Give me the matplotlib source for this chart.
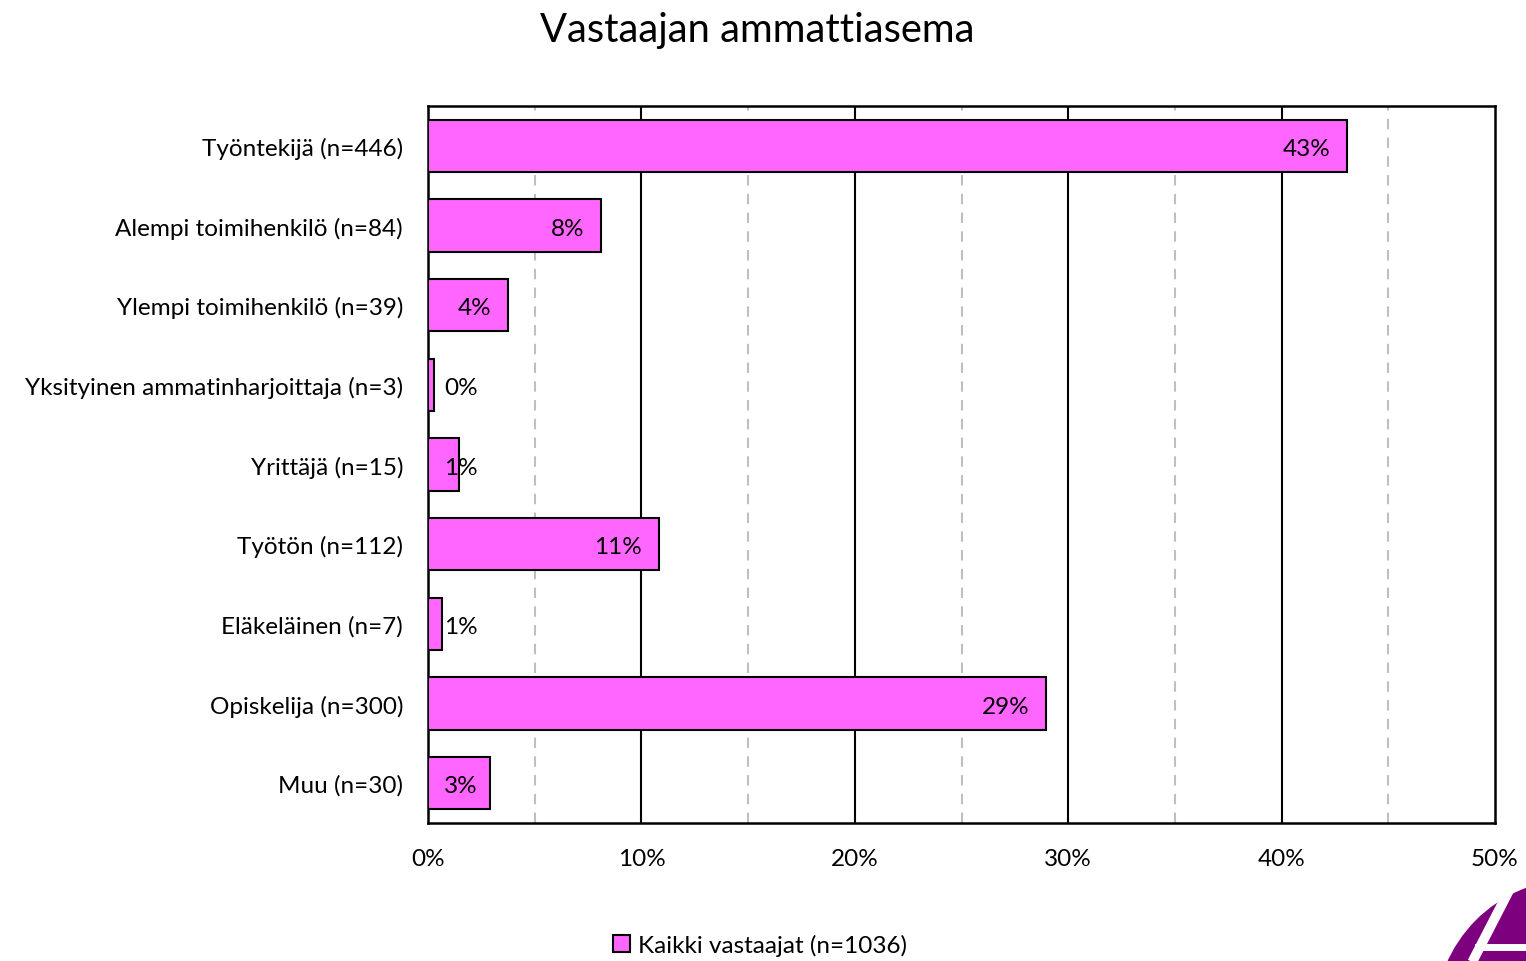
import matplotlib.pyplot as plt
from matplotlib.patches import Wedge, Patch
import numpy as np

plt.rcParams['font.family'] = ['Lato', 'DejaVu Sans']

categories = ['Työntekijä (n=446)', 'Alempi toimihenkilö (n=84)',
              'Ylempi toimihenkilö (n=39)', 'Yksityinen ammatinharjoittaja (n=3)',
              'Yrittäjä (n=15)', 'Työtön (n=112)', 'Eläkeläinen (n=7)',
              'Opiskelija (n=300)', 'Muu (n=30)']
counts = [446, 84, 39, 3, 15, 112, 7, 300, 30]
total = 1036
shares = [c / total * 100 for c in counts]
xticks = [0, 10, 20, 30, 40, 50]
legend_label = 'Kaikki vastaajat (n=1036)'

pink = '#FF66FF'
fs = 17.5

fig = plt.figure(figsize=(15.26, 9.62), dpi=100)
ax = fig.add_axes([0.2805, 0.1435, 0.6992, 0.7452])

y = np.arange(len(categories))
ax.barh(y, shares, height=0.66, color=pink, edgecolor='black', linewidth=1.5, zorder=3)

# labels sit inside the bar end; short bars push them out to a minimum spot
for yi, v in zip(y, shares):
    xa = max(v, 3.1)
    ax.annotate('%d%%' % round(v), xy=(xa, yi), xytext=(-12, -2),
                textcoords='offset points', ha='right', va='center',
                fontsize=fs, zorder=4)

ax.set_xlim(0, 50)
ax.set_ylim(len(categories) - 0.5, -0.5)
ax.set_yticks(y)
ax.set_yticklabels(categories, fontsize=fs)
ax.set_xticks(xticks)
ax.set_xticklabels(['%d%%' % t for t in xticks], fontsize=fs)
ax.tick_params(axis='both', length=0, pad=18)

for t in [10, 20, 30, 40]:
    ax.axvline(t, color='black', linewidth=1.5, zorder=1)
for t in [5, 15, 25, 35, 45]:
    ax.axvline(t, color='#BFBFBF', linewidth=1.5, linestyle=(0, (5, 4)), zorder=1)

for s in ax.spines.values():
    s.set_linewidth(1.8)
    s.set_color('black')

fig.text(0.496, 0.968, 'Vastaajan ammattiasema', ha='center', va='center', fontsize=28.7)

fig.legend(handles=[Patch(facecolor=pink, edgecolor='black', linewidth=1.5, label=legend_label)],
           loc='center', bbox_to_anchor=(0.498, 0.017), frameon=False, fontsize=fs,
           handlelength=0.7, handleheight=0.7, handletextpad=0.3)

# corner logo
lax = fig.add_axes([0, 0, 1, 1], zorder=5)
lax.set_xlim(0, 1526)
lax.set_ylim(962, 0)
lax.axis('off')
lax.add_patch(Wedge((1575, 1020), 140, 0, 360, facecolor='#7D007F', edgecolor='none'))
lax.plot([1515, 1448], [880, 1010], color='white', linewidth=7, solid_capstyle='butt')
lax.plot([1478, 1526], [948, 948], color='white', linewidth=5)

fig.savefig('out.png', dpi=100)
